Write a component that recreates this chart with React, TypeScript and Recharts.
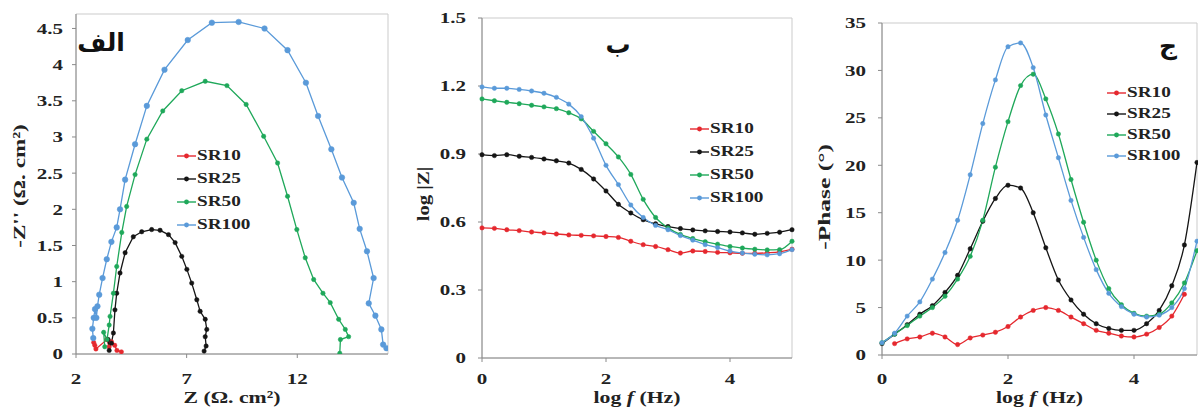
import React from 'react';
import { LineChart, Line, XAxis, YAxis, Legend, ReferenceArea, Label } from 'recharts';

// series names / colours
const seriesNames = ['SR10', 'SR25', 'SR50', 'SR100'];
const seriesColors = ['#e5282e', '#151515', '#1fa85a', '#5a9ad9'];

// --- panel "الف" : Nyquist (Z', -Z'') ---
const nyqSR10Re = [2.85, 2.8, 2.9, 3.4, 3.5, 3.6, 3.75, 3.85, 4.05];
const nyqSR10Im = [0.12, 0.16, 0.07, 0.2, 0.1, 0.17, 0.12, 0.05, 0.03];

const nyqSR25Re = [3.5, 3.45, 3.6, 3.69, 3.76, 3.84, 3.99, 4.22, 4.59, 4.97, 5.42, 5.8, 6.18, 6.48, 6.78, 7.01, 7.23, 7.46, 7.61, 7.84, 7.91, 7.84, 7.88, 7.79];
const nyqSR25Im = [0.05, 0.2, 0.15, 0.29, 0.61, 0.84, 1.12, 1.4, 1.62, 1.69, 1.72, 1.71, 1.65, 1.54, 1.35, 1.17, 0.98, 0.75, 0.59, 0.48, 0.34, 0.24, 0.11, 0.04];

const nyqSR50Re = [3.3, 3.25, 3.4, 3.5, 3.54, 3.69, 3.84, 4.07, 4.29, 4.67, 5.2, 5.92, 6.78, 7.84, 8.82, 9.69, 10.48, 11.11, 11.56, 11.98, 12.36, 12.74, 13.16, 13.49, 13.87, 14.17, 14.32, 13.95, 13.92];
const nyqSR50Im = [0.1, 0.3, 0.2, 0.4, 0.52, 0.84, 1.21, 1.68, 2.04, 2.48, 2.97, 3.36, 3.64, 3.77, 3.71, 3.45, 3.01, 2.64, 2.18, 1.72, 1.33, 1.03, 0.84, 0.71, 0.48, 0.34, 0.24, 0.2, 0.01];

const nyqSR100Re = [2.78, 2.74, 2.8, 2.86, 2.92, 2.97, 3.05, 3.2, 3.39, 3.6, 3.84, 3.99, 4.22, 4.67, 5.2, 6.0, 7.05, 8.14, 9.35, 10.52, 11.56, 12.39, 12.94, 13.54, 14.02, 14.55, 14.82, 15.15, 15.45, 15.23, 15.53, 15.8, 15.88, 16.03];
const nyqSR100Im = [0.22, 0.35, 0.5, 0.62, 0.5, 0.66, 0.82, 1.05, 1.31, 1.55, 1.75, 2.0, 2.41, 2.9, 3.43, 3.93, 4.34, 4.58, 4.59, 4.5, 4.2, 3.75, 3.29, 2.83, 2.44, 2.09, 1.73, 1.42, 1.05, 0.7, 0.53, 0.34, 0.13, 0.08];

const nyqXTicks = [2, 7, 12];
const nyqYTicks = [0, 0.5, 1, 1.5, 2, 2.5, 3, 3.5, 4, 4.5];

// --- panels "ب" and "ج" : Bode, shared frequency axis ---
const logF = [0, 0.2, 0.4, 0.6, 0.8, 1, 1.2, 1.4, 1.6, 1.8, 2, 2.2, 2.4, 2.6, 2.8, 3, 3.2, 3.4, 3.6, 3.8, 4, 4.2, 4.4, 4.6, 4.8, 5];

const logZSR10 = [0.574, 0.572, 0.566, 0.562, 0.556, 0.552, 0.547, 0.543, 0.541, 0.539, 0.536, 0.532, 0.515, 0.5, 0.492, 0.478, 0.463, 0.472, 0.47, 0.466, 0.464, 0.462, 0.462, 0.464, 0.468, 0.48];
const logZSR25 = [0.897, 0.893, 0.897, 0.89, 0.885, 0.878, 0.87, 0.86, 0.832, 0.79, 0.737, 0.678, 0.64, 0.61, 0.592, 0.58, 0.571, 0.565, 0.561, 0.558, 0.556, 0.552, 0.546, 0.55, 0.555, 0.566];
const logZSR50 = [1.143, 1.135, 1.128, 1.122, 1.115, 1.108, 1.1, 1.082, 1.055, 1.0, 0.945, 0.887, 0.81, 0.7, 0.62, 0.574, 0.545, 0.527, 0.513, 0.502, 0.492, 0.485, 0.48, 0.477, 0.478, 0.515];
const logZSR100 = [1.196, 1.19, 1.19, 1.185, 1.178, 1.168, 1.15, 1.12, 1.065, 0.97, 0.85, 0.765, 0.675, 0.62, 0.585, 0.566, 0.54, 0.52, 0.5, 0.487, 0.472, 0.463, 0.458, 0.455, 0.46, 0.478];

const phaseSR10 = [null, 1.2, 1.7, 1.9, 2.3, 1.9, 1.1, 1.8, 2.1, 2.4, 3.0, 4.0, 4.7, 5.0, 4.7, 4.0, 3.3, 2.6, 2.3, 2.0, 1.9, 2.2, 2.9, 4.1, 6.4, null];
const phaseSR25 = [1.2, 2.2, 3.2, 4.3, 5.2, 6.6, 8.4, 11.2, 14.1, 16.5, 17.9, 17.6, 15.0, 11.3, 7.9, 5.8, 4.3, 3.3, 2.8, 2.6, 2.6, 3.3, 4.7, 7.3, 11.6, 20.3];
const phaseSR50 = [1.3, 2.2, 3.1, 4.1, 5.0, 6.2, 8.0, 10.4, 14.2, 19.8, 24.6, 28.4, 29.6, 27.0, 23.3, 18.5, 14.0, 10.0, 7.0, 5.3, 4.4, 4.1, 4.3, 5.5, 7.6, 11.0];
const phaseSR100 = [1.3, 2.3, 4.1, 5.6, 8.0, 10.8, 14.2, 19.0, 24.4, 29.0, 32.5, 32.9, 30.3, 25.3, 20.8, 16.3, 12.4, 9.0, 6.5, 5.1, 4.3, 4.0, 4.2, 5.0, 7.0, 12.0];

const freqTicks = [0, 2, 4];
const logZTicks = [0, 0.3, 0.6, 0.9, 1.2, 1.5];
const phaseTicks = [0, 5, 10, 15, 20, 25, 30, 35];

const nyqData = [
  nyqSR10Re.map((x, i) => ({ x, y: nyqSR10Im[i] })),
  nyqSR25Re.map((x, i) => ({ x, y: nyqSR25Im[i] })),
  nyqSR50Re.map((x, i) => ({ x, y: nyqSR50Im[i] })),
  nyqSR100Re.map((x, i) => ({ x, y: nyqSR100Im[i] })),
];
const bodeZData = logF.map((f, i) => ({ f, s0: logZSR10[i], s1: logZSR25[i], s2: logZSR50[i], s3: logZSR100[i] }));
const bodePData = logF.map((f, i) => ({ f, s0: phaseSR10[i], s1: phaseSR25[i], s2: phaseSR50[i], s3: phaseSR100[i] }));

const serif = '"Liberation Serif", "Times New Roman", serif';
const TICK_SX = 1.4;
const TEXT_SX = 1.28;
const tickStyle: React.CSSProperties = { fontFamily: serif, fontWeight: 700, fontSize: 15, fill: '#222' };
const titleStyle: React.CSSProperties = { fontFamily: serif, fontWeight: 700, fontSize: 17, fill: '#222' };
const axisColor = '#8a8a8a';
const boxColor = '#cbcbcb';

function XTick(props: any) {
  const { x, y, payload } = props;
  return (
    <text transform={`translate(${x},${y}) scale(${TICK_SX},1)`} textAnchor="middle" dy="0.71em" style={tickStyle}>
      {payload.value}
    </text>
  );
}

function YTick(props: any) {
  const { x, y, payload } = props;
  return (
    <text transform={`translate(${x},${y}) scale(${TICK_SX},1)`} textAnchor="end" dy="0.36em" style={tickStyle}>
      {payload.value}
    </text>
  );
}

function xTitle(parts: React.ReactNode) {
  return (p: any) => {
    const vb = p.viewBox;
    const cx = vb.x + vb.width / 2;
    return (
      <text transform={`translate(${cx},403) scale(${TEXT_SX},1)`} textAnchor="middle" style={titleStyle}>
        {parts}
      </text>
    );
  };
}

function yTitle(parts: React.ReactNode, cx: number, cy: number, sx: number) {
  return () => (
    <text
      transform={`translate(${cx},${cy}) rotate(-90) scale(${sx},1)`}
      textAnchor="middle"
      dominantBaseline="central"
      style={titleStyle}
    >
      {parts}
    </text>
  );
}

function legendContent(rowH: number, lineColor: string[]) {
  return () => (
    <div>
      {seriesNames.map((n, i) => (
        <div key={n} style={{ display: 'flex', alignItems: 'center', height: rowH }}>
          <svg width={19} height={8} style={{ display: 'block' }}>
            <line x1={0} y1={4} x2={19} y2={4} stroke={lineColor[i]} strokeWidth={1.4} />
            <circle cx={9.5} cy={4} r={2.4} fill={lineColor[i]} />
          </svg>
          <span
            style={{
              fontFamily: serif,
              fontWeight: 700,
              fontSize: 15,
              color: '#222',
              display: 'inline-block',
              transform: `scaleX(${TEXT_SX})`,
              transformOrigin: 'left center',
              marginLeft: 1,
              lineHeight: 1,
            }}
          >
            {n}
          </span>
        </div>
      ))}
    </div>
  );
}

const panelTitle = (text: string, cx: number, cy: number) => (
  <div
    style={{
      position: 'absolute',
      left: cx - 40,
      top: cy - 17,
      width: 80,
      height: 34,
      lineHeight: '34px',
      textAlign: 'center',
      fontFamily: '"DejaVu Sans", sans-serif',
      fontWeight: 700,
      fontSize: 25,
      color: '#111',
    }}
  >
    {text}
  </div>
);

export default function App() {
  return (
    <div style={{ position: 'absolute', left: 0, top: 0, width: 1198, height: 411, background: '#fff', overflow: 'hidden' }}>
      {/* panel 1: Nyquist */}
      <div style={{ position: 'absolute', left: 0, top: 0 }}>
        <LineChart width={400} height={411} margin={{ top: 14, right: 12, bottom: 0, left: 0 }}>
          <ReferenceArea x1={2} x2={16.1} y1={0} y2={4.7} fill="none" stroke={boxColor} strokeWidth={1} />
          <XAxis
            type="number"
            dataKey="x"
            domain={[2, 16.1]}
            ticks={nyqXTicks}
            allowDataOverflow
            height={57}
            stroke={axisColor}
            tickSize={4}
            tickMargin={15}
            tick={<XTick />}
          >
            <Label content={xTitle(<>Z (Ω. cm²)</>)} />
          </XAxis>
          <YAxis
            type="number"
            dataKey="y"
            domain={[0, 4.7]}
            ticks={nyqYTicks}
            allowDataOverflow
            width={76}
            stroke={axisColor}
            tickSize={4}
            tickMargin={9}
            tick={<YTick />}
          >
            <Label content={yTitle(<>-Z'' (Ω. cm²)</>, 19, 186, 1.36)} />
          </YAxis>
          {nyqData.map((d, i) => (
            <Line
              key={seriesNames[i]}
              data={d}
              dataKey="y"
              type="linear"
              stroke={seriesColors[i]}
              strokeWidth={1.3}
              dot={{ r: i === 3 ? 2.8 : 2.2, fill: seriesColors[i], stroke: seriesColors[i], strokeWidth: 0.5 }}
              isAnimationActive={false}
            />
          ))}
          <Legend
            layout="vertical"
            align="center"
            verticalAlign="middle"
            content={legendContent(23, seriesColors)}
            wrapperStyle={{ left: 177, top: 144, width: 'auto' }}
          />
        </LineChart>
        {panelTitle('الف', 101, 43)}
      </div>

      {/* panel 2: log|Z| */}
      <div style={{ position: 'absolute', left: 400, top: 0 }}>
        <LineChart width={400} height={411} data={bodeZData} margin={{ top: 18, right: 8, bottom: 0, left: 0 }}>
          <ReferenceArea x1={0} x2={5} y1={0} y2={1.5} fill="none" stroke={boxColor} strokeWidth={1} />
          <XAxis
            type="number"
            dataKey="f"
            domain={[0, 5]}
            ticks={freqTicks}
            height={53}
            stroke={axisColor}
            tickSize={4}
            tickMargin={11}
            tick={<XTick />}
          >
            <Label content={xTitle(<>log <tspan fontStyle="italic">f</tspan> (Hz)</>)} />
          </XAxis>
          <YAxis
            type="number"
            domain={[0, 1.5]}
            ticks={logZTicks}
            width={82}
            stroke={axisColor}
            tickSize={4}
            tickMargin={12}
            tick={<YTick />}
          >
            <Label content={yTitle(<>log |Z|</>, 23, 194, 1.22)} />
          </YAxis>
          {['s0', 's1', 's2', 's3'].map((k, i) => (
            <Line
              key={k}
              dataKey={k}
              type="monotone"
              stroke={seriesColors[i]}
              strokeWidth={1.3}
              dot={{ r: 2.2, fill: seriesColors[i], stroke: seriesColors[i], strokeWidth: 0.5 }}
              isAnimationActive={false}
            />
          ))}
          <Legend
            layout="vertical"
            align="center"
            verticalAlign="middle"
            content={legendContent(23, seriesColors)}
            wrapperStyle={{ left: 290, top: 117, width: 'auto' }}
          />
        </LineChart>
        {panelTitle('ب', 218, 45)}
      </div>

      {/* panel 3: phase */}
      <div style={{ position: 'absolute', left: 800, top: 0 }}>
        <LineChart width={398} height={411} data={bodePData} margin={{ top: 23, right: 1, bottom: 0, left: 0 }}>
          <ReferenceArea x1={0} x2={5} y1={0} y2={35} fill="none" stroke={boxColor} strokeWidth={1} />
          <XAxis
            type="number"
            dataKey="f"
            domain={[0, 5]}
            ticks={freqTicks}
            height={56}
            stroke={axisColor}
            tickSize={4}
            tickMargin={14}
            tick={<XTick />}
          >
            <Label content={xTitle(<>log <tspan fontStyle="italic">f</tspan> (Hz)</>)} />
          </XAxis>
          <YAxis
            type="number"
            domain={[0, 35]}
            ticks={phaseTicks}
            width={82}
            stroke={axisColor}
            tickSize={4}
            tickMargin={12}
            tick={<YTick />}
          >
            <Label content={yTitle(<>-Phase (°)</>, 25, 197, 1.5)} />
          </YAxis>
          {['s0', 's1', 's2', 's3'].map((k, i) => (
            <Line
              key={k}
              dataKey={k}
              type="monotone"
              stroke={seriesColors[i]}
              strokeWidth={1.3}
              dot={{ r: 2.2, fill: seriesColors[i], stroke: seriesColors[i], strokeWidth: 0.5 }}
              isAnimationActive={false}
            />
          ))}
          <Legend
            layout="vertical"
            align="center"
            verticalAlign="middle"
            content={legendContent(21, seriesColors)}
            wrapperStyle={{ left: 307, top: 82, width: 'auto' }}
          />
        </LineChart>
        {panelTitle('ج', 368, 46)}
      </div>
    </div>
  );
}
